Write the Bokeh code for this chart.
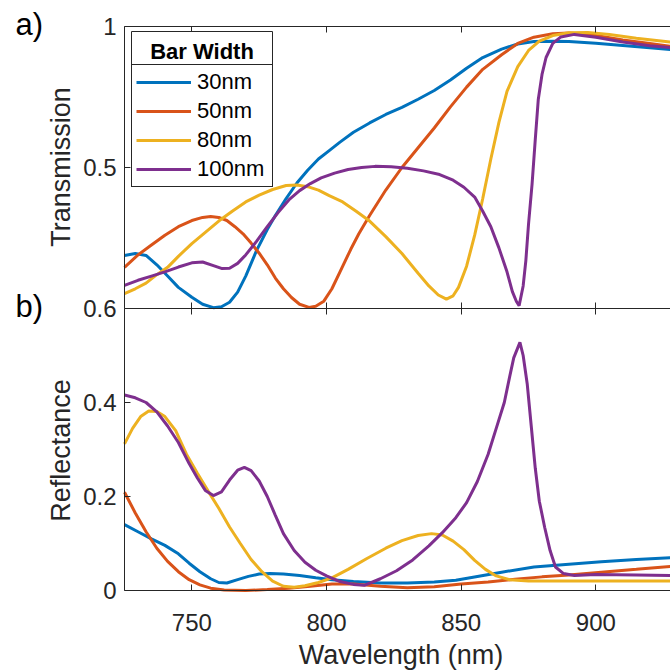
import math
from bokeh.plotting import figure
from bokeh.models import (Range1d, LinearAxis, FixedTicker, Legend, LegendItem,
                          Label, BoxAnnotation, CustomJSTickFormatter)
from bokeh.embed import file_html
from bokeh.resources import INLINE

# ---------------- data ----------------
names = ["30nm", "50nm", "80nm", "100nm"]
colors = ["#0072BD", "#D95319", "#EDB120", "#7E2F8E"]

x_ticks = [750, 800, 850, 900]
t_ticks = [0.5, 1]
r_ticks = [0, 0.2, 0.4, 0.6]

# Transmission (panel a)
t30_wl = [725, 729, 733, 737, 741, 745, 750, 754, 758, 761, 764, 767, 770, 774, 778, 781, 785, 789,
          793, 797, 801, 805, 810, 816, 822, 828, 834, 840, 846, 852, 858, 865, 871, 877, 884, 890,
          900, 910, 920, 927.7]
t30 = [0.188, 0.195, 0.188, 0.155, 0.115, 0.075, 0.040, 0.015, 0.003, 0.006, 0.022, 0.058, 0.115,
       0.205, 0.28, 0.33, 0.39, 0.445, 0.49, 0.53, 0.56, 0.59, 0.625, 0.658, 0.688, 0.713, 0.742,
       0.773, 0.81, 0.852, 0.89, 0.92, 0.938, 0.947, 0.948, 0.947, 0.941, 0.933, 0.925, 0.918]

t50_wl = [725, 730, 735, 740, 745, 750, 754, 757, 760, 763, 766, 769, 772, 775, 778, 781, 784, 787,
          790, 793.5, 796, 799, 802, 805, 809, 812, 816, 822, 828, 834, 840, 846, 852, 858, 865, 871,
          877, 884, 890, 900, 910, 920, 927.7]
t50 = [0.146, 0.19, 0.225, 0.26, 0.29, 0.312, 0.323, 0.326, 0.323, 0.312, 0.29, 0.265, 0.232, 0.196,
       0.155, 0.108, 0.07, 0.039, 0.015, 0.004, 0.008, 0.026, 0.07, 0.13, 0.21, 0.265, 0.33, 0.42,
       0.5, 0.57, 0.64, 0.715, 0.785, 0.848, 0.9, 0.94, 0.962, 0.974, 0.977, 0.968, 0.952, 0.94, 0.93]

t80_wl = [725, 729, 733, 737, 741, 745, 750, 755, 760, 765, 770, 775, 780, 785, 789, 793, 797, 801,
          806, 811, 816, 822, 828, 834, 838, 841.5, 844.5, 847, 849, 852, 855, 858, 861, 864, 867,
          871, 875, 879, 884, 890, 897, 905, 915, 927.7]
t80 = [0.053, 0.07, 0.09, 0.12, 0.146, 0.185, 0.23, 0.27, 0.31, 0.345, 0.378, 0.402, 0.422, 0.436,
       0.438, 0.432, 0.42, 0.4, 0.378, 0.345, 0.31, 0.255, 0.195, 0.125, 0.08, 0.048, 0.033, 0.045,
       0.075, 0.15, 0.26, 0.39, 0.53, 0.66, 0.77, 0.858, 0.915, 0.948, 0.968, 0.978, 0.979, 0.972,
       0.958, 0.945]

t100_wl = [725, 730, 735, 740, 745, 750, 754, 758, 761, 764, 767, 770, 774, 778, 782, 786, 790, 794,
           798, 803, 808, 813, 818, 824, 830, 836, 842, 847, 851, 855, 858, 861, 864, 867, 869, 870.5,
           871.5, 873, 874, 875, 876.3, 877.5, 878.6, 880, 881.5, 884, 887, 892, 900, 910, 920, 927.7]
t100 = [0.082, 0.1, 0.115, 0.13, 0.147, 0.162, 0.165, 0.152, 0.142, 0.143, 0.16, 0.19, 0.238, 0.29,
        0.34, 0.385, 0.418, 0.443, 0.463, 0.48, 0.493, 0.5, 0.504, 0.503, 0.497, 0.488, 0.475, 0.455,
        0.43, 0.395, 0.345, 0.29, 0.215, 0.13, 0.06, 0.025, 0.01, 0.08, 0.17, 0.3, 0.44, 0.6, 0.74,
        0.83, 0.89, 0.94, 0.963, 0.972, 0.962, 0.945, 0.932, 0.925]

# Reflectance (panel b)
r30_wl = [725, 730, 735, 740, 745, 749, 753, 757, 760, 763, 767, 771, 775, 779, 784, 790, 796, 802,
          810, 820, 830, 840, 848, 856, 865, 877, 890, 902, 915, 927.7]
r30 = [0.14, 0.125, 0.11, 0.096, 0.078, 0.058, 0.04, 0.025, 0.017, 0.016, 0.023, 0.03, 0.035, 0.036,
       0.035, 0.032, 0.027, 0.023, 0.019, 0.016, 0.016, 0.018, 0.022, 0.03, 0.039, 0.05, 0.056, 0.061,
       0.066, 0.07]

r50_wl = [725, 729, 733, 737, 741, 745, 749, 753, 757, 762, 770, 778, 786, 794, 802, 810, 820, 830,
          840, 850, 860, 870, 880, 890, 902, 915, 927.7]
r50 = [0.209, 0.165, 0.125, 0.09, 0.062, 0.04, 0.023, 0.012, 0.005, 0.001, 0.0, 0.002, 0.005, 0.009,
       0.014, 0.014, 0.009, 0.006, 0.008, 0.014, 0.018, 0.024, 0.029, 0.033, 0.039, 0.045, 0.051]

r80_wl = [725, 728, 731, 734, 737, 740, 744, 748, 752, 756, 760, 764, 768, 772, 776, 780, 784, 788,
          792, 797, 802, 808, 815, 822, 828, 834, 839, 843, 847, 851, 855, 859, 863, 868, 875, 890,
          927.7]
r80 = [0.312, 0.345, 0.37, 0.382, 0.381, 0.37, 0.34, 0.29, 0.25, 0.212, 0.175, 0.135, 0.1, 0.066,
       0.04, 0.02, 0.009, 0.007, 0.01, 0.017, 0.027, 0.045, 0.068, 0.09, 0.106, 0.117, 0.121, 0.118,
       0.105, 0.087, 0.064, 0.045, 0.031, 0.023, 0.02, 0.02, 0.02]

r100_wl = [725, 729, 733, 737, 741, 745, 749, 752, 755, 758, 761, 764, 767, 769.5, 772, 775, 778, 781,
           784, 788, 792, 796, 800, 805, 810, 814, 820, 826, 832, 838, 843, 848, 852, 856, 860, 863,
           866, 868, 869.5, 871.8, 873, 874.5, 876, 877.5, 879, 881, 883, 885, 888, 892, 900, 915,
           927.7]
r100 = [0.416, 0.41, 0.4, 0.38, 0.35, 0.315, 0.27, 0.24, 0.213, 0.202, 0.21, 0.235, 0.256, 0.262,
        0.255, 0.233, 0.2, 0.16, 0.121, 0.085, 0.06, 0.043, 0.031, 0.019, 0.013, 0.011, 0.025, 0.042,
        0.065, 0.095, 0.123, 0.155, 0.187, 0.232, 0.29, 0.345, 0.4, 0.455, 0.495, 0.528, 0.5, 0.44,
        0.35, 0.26, 0.19, 0.134, 0.085, 0.05, 0.036, 0.032, 0.034, 0.033, 0.032]

trans = [(t30_wl, t30), (t50_wl, t50), (t80_wl, t80), (t100_wl, t100)]
refl = [(r30_wl, r30), (r50_wl, r50), (r80_wl, r80), (r100_wl, r100)]

# ---------------- layout geometry (pixels) ----------------
W, H = 670, 671
LEFT, RIGHT, TOP, MID, BOT = 124, 670, 26, 308, 590
X0, X1 = 725, 927.7
xs = (RIGHT - LEFT) / (X1 - X0)            # px per nm
r_ps = (BOT - TOP) / 1.2                    # px per reflectance unit (lower range 0..1.2)
t_ps = (BOT - TOP) / 2.0                    # px per transmission unit (upper range -1..1)

FONT = "Liberation Sans"
AX = "#262626"
TICK_FS = "24px"
LAB_FS = "27px"

p = figure(width=W, height=H,
           x_range=Range1d(X0 - LEFT / xs, X0 + (W - LEFT) / xs),
           y_range=Range1d(0 - (H - BOT) / r_ps, 1.2 + TOP / r_ps),
           output_backend="svg", toolbar_location=None,
           x_axis_location=None, y_axis_location=None,
           min_border_left=0, min_border_right=0, min_border_top=0, min_border_bottom=0)
p.extra_y_ranges = {"top": Range1d(-1 - (H - BOT) / t_ps, 1 + TOP / t_ps)}
p.outline_line_color = None
p.grid.visible = False
p.background_fill_color = "white"
p.border_fill_color = "white"

blank = CustomJSTickFormatter(code="return ''")
plain = CustomJSTickFormatter(code="return String(tick)")


def style(ax, tin=6, tout=0):
    ax.axis_line_color = AX
    ax.axis_line_width = 1
    ax.major_tick_line_color = AX
    ax.major_tick_in = tin
    ax.major_tick_out = tout
    ax.minor_tick_line_color = None
    ax.major_label_text_font = FONT
    ax.major_label_text_font_size = TICK_FS
    ax.major_label_text_color = AX


xb = LinearAxis(ticker=FixedTicker(ticks=x_ticks), formatter=plain, fixed_location=0,
                bounds=(X0, X1))
style(xb)
xb.major_label_standoff = 23
p.add_layout(xb, "below")

xt = LinearAxis(ticker=FixedTicker(ticks=x_ticks), formatter=blank, fixed_location=1.2,
                bounds=(X0, X1))
style(xt)
p.add_layout(xt, "above")

xm = LinearAxis(ticker=FixedTicker(ticks=x_ticks), formatter=blank, fixed_location=0.6,
                bounds=(X0, X1))
style(xm, tin=6, tout=6)
p.add_layout(xm, "below")

yl = LinearAxis(ticker=FixedTicker(ticks=r_ticks), formatter=plain, fixed_location=X0,
                bounds=(0, 0.6))
style(yl)
yl.major_label_standoff = 8
p.add_layout(yl, "left")

yt = LinearAxis(ticker=FixedTicker(ticks=t_ticks), formatter=plain, y_range_name="top",
                fixed_location=X0, bounds=(0, 1))
style(yt)
yt.major_label_standoff = 8
p.add_layout(yt, "left")

top_renderers = []
for (wl, vals), c in zip(trans, colors):
    r = p.line(wl, vals, line_color=c, line_width=3, y_range_name="top")
    top_renderers.append(r)
for (wl, vals), c in zip(refl, colors):
    p.line(wl, vals, line_color=c, line_width=3)

# legend items box (rows of lines + labels), from y=65 to y=187 on the page
legend = Legend(items=[LegendItem(label=n, renderers=[r]) for n, r in zip(names, top_renderers)],
                location=(131, H - 187),
                border_line_color=AX, border_line_width=1, border_line_alpha=1.0,
                background_fill_color="white", background_fill_alpha=1.0,
                label_text_font=FONT, label_text_font_size="22px", label_text_color="black",
                glyph_width=55, glyph_height=26, label_height=26, label_width=71, spacing=3,
                padding=4, label_standoff=6, margin=0)
p.add_layout(legend)

# title cell of the legend, above the items box
title_box = BoxAnnotation(left=131, right=272, top=H - 31, bottom=H - 65,
                          left_units="screen", right_units="screen", top_units="screen",
                          bottom_units="screen", fill_color="white", fill_alpha=1.0,
                          line_color=AX, line_width=1, line_alpha=1.0)
p.add_layout(title_box)
p.add_layout(Label(x=201.5, y=H - 50.5, x_units="screen", y_units="screen", text="Bar Width",
                   text_font=FONT, text_font_size="22px", text_font_style="bold",
                   text_align="center", text_baseline="alphabetic", text_color="black"))

# (text anchors compensate for the baseline offset seen in the SVG output)
p.add_layout(Label(x=60, y=H - 166.5, x_units="screen", y_units="screen", text="Transmission",
                   angle=math.pi / 2, text_font=FONT, text_font_size=LAB_FS, text_color=AX,
                   text_align="center", text_baseline="alphabetic"))
p.add_layout(Label(x=60, y=H - 450, x_units="screen", y_units="screen", text="Reflectance",
                   angle=math.pi / 2, text_font=FONT, text_font_size=LAB_FS, text_color=AX,
                   text_align="center", text_baseline="alphabetic"))
p.add_layout(Label(x=400.5, y=H - 654, x_units="screen", y_units="screen", text="Wavelength (nm)",
                   text_font=FONT, text_font_size=LAB_FS, text_color=AX,
                   text_align="center", text_baseline="alphabetic"))

p.add_layout(Label(x=15, y=H - 23.5, x_units="screen", y_units="screen", text="a)",
                   text_font=FONT, text_font_size="31px", text_color="black",
                   text_baseline="alphabetic"))
p.add_layout(Label(x=15, y=H - 306, x_units="screen", y_units="screen", text="b)",
                   text_font=FONT, text_font_size="31px", text_color="black",
                   text_baseline="alphabetic"))

open("out.html", "w").write(file_html(p, INLINE))
